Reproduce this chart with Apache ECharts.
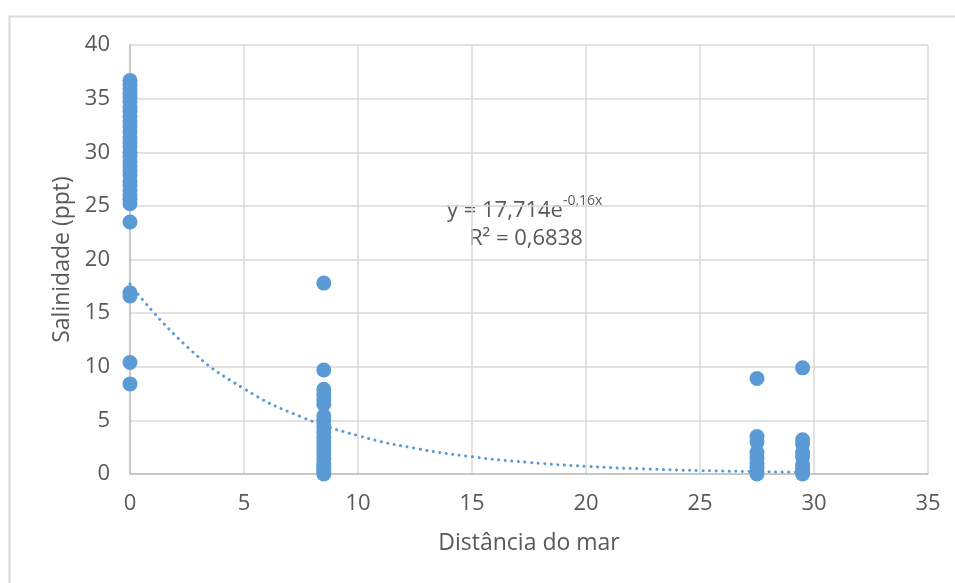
<!DOCTYPE html>
<html>
<head>
<meta charset="utf-8">
<script src="https://cdn.jsdelivr.net/npm/echarts@6/dist/echarts.min.js"></script>
<style>html,body{margin:0;padding:0;background:#fff}#c{width:955px;height:583px}</style>
</head>
<body>
<div id="c"></div>
<script>
// Data
const xName = 'Distância do mar';
const yName = 'Salinidade (ppt)';
const dist0 = [36.7,36.3,35.9,35.5,35.1,34.7,34.2,33.8,33.3,32.9,32.4,31.9,31.4,30.9,30.5,30.0,29.6,29.1,28.7,28.2,27.8,27.3,26.9,26.4,26.0,25.6,25.2,23.5,16.9,16.6,10.4,8.4];
const dist8_5 = [17.8,9.7,7.9,7.4,6.9,6.5,5.4,5.0,4.4,3.9,3.4,3.0,2.6,2.2,1.8,1.4,1.0,0.7,0.4,0.2,0];
const dist27_5 = [8.9,3.5,3.0,2.0,1.5,1.0,0.6,0.2,0];
const dist29_5 = [9.9,3.2,2.8,2.0,1.6,0.9,0.5,0.2,0];
const groups = [[0, dist0],[8.5, dist8_5],[27.5, dist27_5],[29.5, dist29_5]];
// Trendline y = 17,714e^(-0,16x)
const trendX = [0,2.5,5,7.5,10,12.5,15,17.5,20,22.5,25,27.5,29.5];
const trendY = [17.71,11.87,7.96,5.34,3.58,2.40,1.61,1.08,0.72,0.48,0.32,0.22,0.16];
const eqLine1 = 'y = 17,714e';
const eqExp = '-0,16x';
const eqLine2 = 'R² = 0,6838';

const pts = [];
groups.forEach(g => g[1].forEach(v => pts.push([g[0], v])));
const trend = trendX.map((x,i) => [x, trendY[i]]);

const txt = '#595959';
const font = 'Open Sans';
const chart = echarts.init(document.getElementById('c'), null, {renderer:'canvas'});
chart.setOption({
  backgroundColor: '#fff',
  animation: false,
  grid: {left:130, right:27, top:45, bottom:109},
  xAxis: {
    type:'value', min:0, max:35, interval:5,
    name: xName, nameLocation:'middle', nameGap:58,
    nameTextStyle:{color:txt, fontSize:23, fontFamily:font},
    axisLine:{show:true, onZero:false, lineStyle:{color:'#BFBFBF', width:1.5}},
    axisTick:{show:false},
    axisLabel:{color:txt, fontSize:22, fontFamily:font, margin:19},
    splitLine:{show:true, lineStyle:{color:'#D9D9D9', width:1.5}}
  },
  yAxis: {
    type:'value', min:0, max:40, interval:5,
    name: yName, nameLocation:'middle', nameGap:52,
    nameTextStyle:{color:txt, fontSize:23, fontFamily:font},
    axisLine:{show:true, lineStyle:{color:'#BFBFBF', width:1.5}},
    axisTick:{show:false},
    axisLabel:{color:txt, fontSize:22, fontFamily:font, margin:20},
    splitLine:{show:true, lineStyle:{color:'#D9D9D9', width:1.5}}
  },
  series: [
    {
      type:'line', data: trend, smooth:true, showSymbol:false, z:1,
      lineStyle:{color:'#5B9BD5', width:3, type:[0.1,6.5], cap:'round'}
    },
    {
      type:'scatter', data: pts, symbolSize:15, z:3,
      itemStyle:{color:'#5B9BD5', opacity:1}
    }
  ],
  graphic: [
    {type:'rect', left:7, top:14, shape:{width:1000, height:1000}, style:{fill:'none', stroke:'#D9D9D9', lineWidth:2}, silent:true},
    {type:'text', x:447, y:194, style:{
      text:'{a|' + eqLine1 + '}{b|' + eqExp + '}',
      rich:{
        a:{fontSize:22, fontFamily:font, fill:txt, verticalAlign:'bottom', lineHeight:28},
        b:{fontSize:14, fontFamily:font, fill:txt, verticalAlign:'top', padding:[0,0,14,0], lineHeight:28}
      }
    }},
    {type:'text', x:469, y:228, style:{text:eqLine2, fontSize:22, fontFamily:font, fill:txt}}
  ]
});
</script>
</body>
</html>
